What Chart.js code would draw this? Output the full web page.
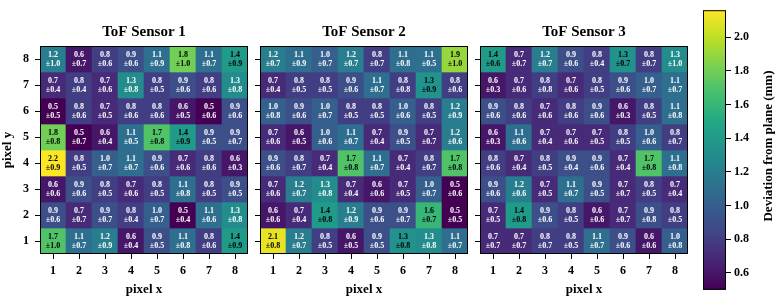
<!DOCTYPE html>
<html>
<head>
<meta charset="utf-8">
<script src="https://cdn.jsdelivr.net/npm/chart.js@4.4.0/dist/chart.umd.min.js"></script>
<style>
html, body { margin: 0; padding: 0; background: #fff; }
#wrap { position: relative; width: 780px; height: 300px; }
canvas { position: absolute; top: 0; }
</style>
</head>
<body>
<div id="wrap">
	<canvas id="s1" width="250" height="300" style="left:0px"></canvas>
	<canvas id="s2" width="220" height="300" style="left:250px"></canvas>
	<canvas id="s3" width="220" height="300" style="left:470px"></canvas>
	<canvas id="cb" width="90" height="300" style="left:690px"></canvas>
</div>
<script>
// pixel labels; rows are listed from y = 8 (top) down to y = 1
const xLabels = ["1", "2", "3", "4", "5", "6", "7", "8"];
const yLabels = [8, 7, 6, 5, 4, 3, 2, 1];

const s1Mean = [
	[1.2, 0.6, 0.8, 0.9, 1.1, 1.8, 1.1, 1.4],
	[0.7, 0.8, 0.7, 1.3, 0.8, 0.9, 0.8, 1.3],
	[0.5, 0.8, 0.7, 0.8, 0.8, 0.6, 0.5, 0.9],
	[1.8, 0.5, 0.6, 1.1, 1.7, 1.4, 0.9, 0.9],
	[2.16, 0.8, 1.0, 1.1, 0.9, 0.7, 0.8, 0.6],
	[0.6, 0.9, 0.8, 0.7, 0.8, 1.1, 0.8, 0.9],
	[0.9, 0.7, 0.9, 0.8, 1.0, 0.5, 1.1, 1.3],
	[1.7, 1.1, 1.2, 0.6, 0.9, 1.1, 0.8, 1.4],
];
const s1Std = [
	[1.0, 0.7, 0.6, 0.6, 0.9, 1.0, 0.7, 0.9],
	[0.4, 0.4, 0.6, 0.8, 0.5, 0.6, 0.6, 0.8],
	[0.5, 0.6, 0.5, 0.6, 0.6, 0.5, 0.6, 0.6],
	[0.8, 0.7, 0.4, 0.5, 0.8, 0.9, 0.5, 0.7],
	[0.9, 0.5, 0.7, 0.7, 0.6, 0.6, 0.6, 0.3],
	[0.6, 0.6, 0.5, 0.6, 0.5, 0.8, 0.5, 0.5],
	[0.6, 0.7, 0.7, 0.4, 0.7, 0.4, 0.6, 0.8],
	[1.0, 0.7, 0.9, 0.4, 0.5, 0.8, 0.6, 0.9],
];

const s2Mean = [
	[1.2, 1.1, 1.0, 1.2, 0.8, 1.1, 1.1, 1.9],
	[0.7, 0.8, 0.8, 0.9, 1.1, 0.8, 1.34, 0.8],
	[1.0, 0.9, 1.0, 0.8, 0.8, 1.0, 0.8, 1.2],
	[0.7, 0.6, 1.0, 1.1, 0.7, 0.9, 0.7, 1.2],
	[0.9, 0.8, 0.7, 1.7, 1.1, 0.7, 0.8, 1.7],
	[0.7, 1.2, 1.3, 0.7, 0.6, 0.7, 1.0, 0.5],
	[0.6, 0.7, 1.4, 1.2, 0.9, 0.9, 1.6, 0.5],
	[2.1, 1.2, 0.8, 0.6, 0.9, 1.34, 1.3, 1.1],
];
const s2Std = [
	[0.7, 0.9, 0.7, 0.7, 0.7, 0.8, 0.5, 1.0],
	[0.4, 0.5, 0.5, 0.6, 0.7, 0.8, 0.9, 0.6],
	[0.8, 0.6, 0.7, 0.5, 0.5, 0.6, 0.5, 0.9],
	[0.6, 0.5, 0.6, 0.7, 0.4, 0.5, 0.7, 0.6],
	[0.6, 0.7, 0.4, 0.8, 0.7, 0.4, 0.7, 0.8],
	[0.6, 0.7, 0.8, 0.4, 0.6, 0.5, 0.7, 0.6],
	[0.6, 0.4, 0.8, 0.9, 0.6, 0.7, 0.7, 0.5],
	[0.8, 0.7, 0.5, 0.5, 0.5, 0.8, 0.8, 0.7],
];

const s3Mean = [
	[1.4, 0.7, 1.2, 0.9, 0.8, 1.34, 0.8, 1.3],
	[0.6, 0.7, 0.8, 0.7, 0.8, 0.9, 1.0, 1.1],
	[0.9, 0.8, 0.7, 0.8, 0.9, 0.6, 0.8, 1.1],
	[0.6, 1.1, 0.7, 0.7, 0.7, 0.8, 1.0, 0.8],
	[0.8, 0.7, 0.8, 0.9, 0.9, 0.7, 1.7, 1.1],
	[0.9, 1.2, 0.7, 1.1, 0.9, 0.7, 0.8, 0.7],
	[0.7, 1.4, 0.9, 0.8, 0.6, 0.7, 0.9, 0.8],
	[0.7, 0.7, 0.8, 0.8, 1.1, 0.9, 0.6, 1.0],
];
const s3Std = [
	[0.6, 0.7, 0.7, 0.6, 0.4, 0.7, 0.7, 1.0],
	[0.3, 0.6, 0.8, 0.6, 0.5, 0.6, 0.7, 0.7],
	[0.6, 0.6, 0.6, 0.6, 0.6, 0.3, 0.5, 0.8],
	[0.3, 0.6, 0.4, 0.6, 0.5, 0.5, 0.6, 0.7],
	[0.6, 0.4, 0.5, 0.4, 0.6, 0.4, 0.8, 0.8],
	[0.6, 0.6, 0.5, 0.7, 0.5, 0.7, 0.5, 0.4],
	[0.5, 0.8, 0.6, 0.5, 0.6, 0.7, 0.8, 0.5],
	[0.7, 0.7, 0.7, 0.5, 0.7, 0.6, 0.6, 0.8],
];

const cbMin = 0.5;
const cbMax = 2.16;
const cbTicks = [0.6, 0.8, 1.0, 1.2, 1.4, 1.6, 1.8, 2.0];

const viridis = ["#440154", "#482475", "#414487", "#355f8d", "#2a788e", "#21918c",
	"#22a884", "#44bf70", "#7ad151", "#bddf26", "#fde725"];

const SERIF = "'Liberation Serif', 'Times New Roman', serif";

function hexRgb(h) {
	return [1, 3, 5].map((i) => parseInt(h.slice(i, i + 2), 16));
}

function colorFor(v) {
	let t = (v - cbMin) / (cbMax - cbMin);
	t = Math.max(0, Math.min(1, t)) * (viridis.length - 1);
	const i = Math.min(Math.floor(t), viridis.length - 2);
	const f = t - i;
	const a = hexRgb(viridis[i]), b = hexRgb(viridis[i + 1]);
	const c = a.map((x, k) => Math.round(x + (b[k] - x) * f));
	return `rgb(${c[0]},${c[1]},${c[2]})`;
}

function cellPlugin(title, means, stds) {
	return {
		id: "cells",
		afterDatasetsDraw(chart) {
			const { ctx, chartArea: a, scales } = chart;
			ctx.save();
			ctx.textAlign = "center";
			ctx.textBaseline = "middle";
			ctx.font = "bold 8px " + SERIF;
			const mid = (cbMin + cbMax) / 2;
			means.forEach((row, r) => {
				row.forEach((m, c) => {
					const px = scales.x.getPixelForValue(c);
					const py = scales.y.getPixelForValue(yLabels[r]);
					ctx.fillStyle = m > mid ? "#000" : "#fff";
					ctx.fillText(m.toFixed(1), px, py - 4.5);
					ctx.fillText("±" + stds[r][c].toFixed(1), px, py + 4.5);
				});
			});
			ctx.strokeStyle = "#000";
			ctx.lineWidth = 1;
			ctx.strokeRect(a.left + 0.5, a.top + 0.5, a.right - a.left - 1, a.bottom - a.top - 1);
			ctx.font = "bold 15px " + SERIF;
			ctx.fillStyle = "#000";
			ctx.fillText(title, (a.left + a.right) / 2, 32);
			ctx.restore();
		},
	};
}

function heatmap(id, title, means, stds, first) {
	const yWidth = first ? 40 : 10;
	return new Chart(document.getElementById(id), {
		type: "bar",
		data: {
			labels: xLabels,
			datasets: yLabels.map((yv, r) => ({
				data: xLabels.map(() => [yv - 0.5, yv + 0.5]),
				backgroundColor: means[r].map(colorFor),
				borderWidth: 0,
				barPercentage: 1,
				categoryPercentage: 1,
				grouped: false,
			})),
		},
		options: {
			responsive: false,
			animation: false,
			layout: { padding: { top: 46, right: 2, left: 0, bottom: 0 } },
			plugins: { legend: { display: false }, tooltip: { enabled: false } },
			scales: {
				x: {
					grid: { drawOnChartArea: false, tickLength: 5, color: "#000", offset: false },
					border: { display: false },
					ticks: { color: "#000", padding: 5, font: { family: SERIF, size: 12, weight: "bold" } },
					title: {
						display: true, text: "pixel x", color: "#000", padding: { top: 0, bottom: 3 },
						font: { family: SERIF, size: 13, weight: "bold" },
					},
					afterFit: (s) => { s.height = 46; },
				},
				y: {
					min: 0.5,
					max: 8.5,
					afterBuildTicks: (s) => { s.ticks = yLabels.map((v) => ({ value: v })); },
					grid: { drawOnChartArea: false, tickLength: 5, color: "#000" },
					border: { display: false },
					ticks: {
						color: "#000", padding: 6,
						font: { family: SERIF, size: 12, weight: "bold" },
						callback: (v) => (first ? String(v) : ""),
					},
					title: {
						display: first, text: "pixel y", color: "#000", padding: { top: 0, bottom: 0 },
						font: { family: SERIF, size: 13, weight: "bold" },
					},
					afterFit: (s) => { s.width = yWidth; },
				},
			},
		},
		plugins: [cellPlugin(title, means, stds)],
	});
}

heatmap("s1", "ToF Sensor 1", s1Mean, s1Std, true);
heatmap("s2", "ToF Sensor 2", s2Mean, s2Std, false);
heatmap("s3", "ToF Sensor 3", s3Mean, s3Std, false);

function cbGradient(chart) {
	const a = chart.chartArea;
	if (!a) return viridis[0];
	const g = chart.ctx.createLinearGradient(0, a.bottom, 0, a.top);
	viridis.forEach((c, i) => g.addColorStop(i / (viridis.length - 1), c));
	return g;
}

new Chart(document.getElementById("cb"), {
	type: "bar",
	data: {
		labels: [""],
		datasets: [{
			data: [[cbMin, cbMax]],
			backgroundColor: (c) => cbGradient(c.chart),
			borderWidth: 0,
			barPercentage: 1,
			categoryPercentage: 1,
		}],
	},
	options: {
		responsive: false,
		animation: false,
		layout: { padding: { top: 9, bottom: 7, left: 13, right: 0 } },
		plugins: { legend: { display: false }, tooltip: { enabled: false } },
		scales: {
			x: { display: false },
			y: {
				position: "right",
				min: cbMin,
				max: cbMax,
				afterBuildTicks: (s) => { s.ticks = cbTicks.map((v) => ({ value: v })); },
				grid: { drawOnChartArea: false, tickLength: 5, color: "#000" },
				border: { display: false },
				ticks: {
					color: "#000", padding: 3,
					font: { family: SERIF, size: 12, weight: "bold" },
					callback: (v) => Number(v).toFixed(1),
				},
				afterFit: (s) => { s.width = 54; },
			},
		},
	},
	plugins: [{
		id: "cbFrame",
		afterDraw(chart) {
			const { ctx, chartArea: a } = chart;
			ctx.save();
			ctx.strokeStyle = "#000";
			ctx.lineWidth = 1;
			ctx.strokeRect(a.left + 0.5, a.top + 0.5, a.right - a.left - 1, a.bottom - a.top - 1);
			ctx.translate(79, 146);
			ctx.rotate(-Math.PI / 2);
			ctx.textAlign = "center";
			ctx.textBaseline = "middle";
			ctx.fillStyle = "#000";
			ctx.font = "bold 13px " + SERIF;
			ctx.fillText("Deviation from plane (mm)", 0, 0);
			ctx.restore();
		},
	}],
});
</script>
</body>
</html>
